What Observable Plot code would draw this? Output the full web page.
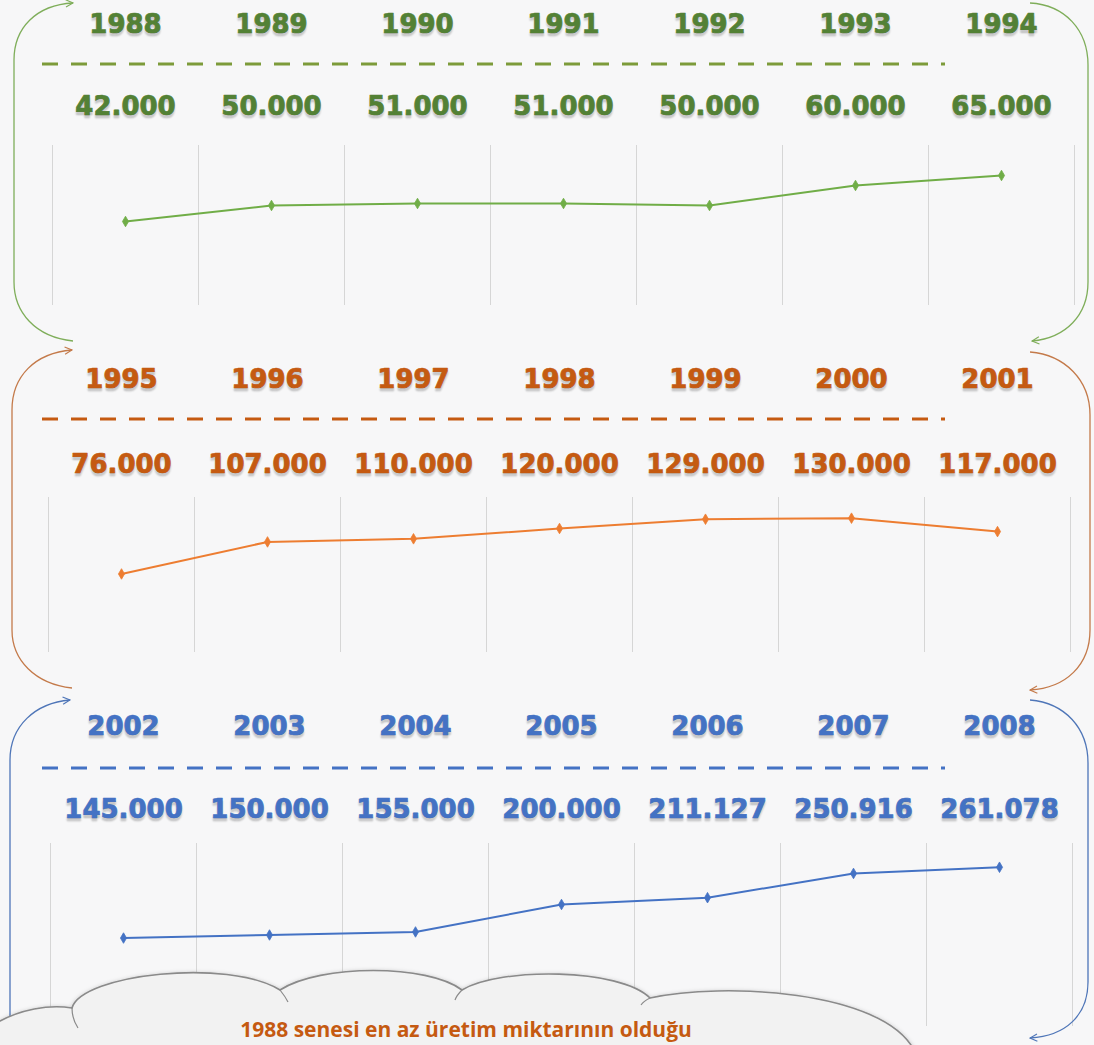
<!DOCTYPE html>
<html>
<head>
<meta charset="utf-8">
<script src="https://cdn.jsdelivr.net/npm/d3@7"></script>
<script src="https://cdn.jsdelivr.net/npm/@observablehq/plot@0.6"></script>
<style>
  html, body { margin: 0; padding: 0; background: #f7f7f8; }
  #root { position: relative; width: 1094px; height: 1045px; overflow: hidden; background: #f7f7f8; }
  #root svg.panel { position: absolute; left: 0; }
  #root .lbl text { text-shadow: 0 3px 2px rgba(0,0,0,0.18); }
  #overlay { position: absolute; left: 0; top: 0; pointer-events: none; }
</style>
</head>
<body>
<div id="root"></div>
<script>
// ---- data ----
const years1 = [1988, 1989, 1990, 1991, 1992, 1993, 1994];
const values1 = [42000, 50000, 51000, 51000, 50000, 60000, 65000];
const years2 = [1995, 1996, 1997, 1998, 1999, 2000, 2001];
const values2 = [76000, 107000, 110000, 120000, 129000, 130000, 117000];
const years3 = [2002, 2003, 2004, 2005, 2006, 2007, 2008];
const values3 = [145000, 150000, 155000, 200000, 211127, 250916, 261078];
const yMaxes = [80000, 150000, 300000];
const noteText = "1988 senesi en az üretim miktarının olduğu";

const trFormat = d3.formatLocale({decimal: ",", thousands: ".", grouping: [3], currency: ["", " TL"]}).format(",");

const root = document.getElementById("root");

function panel({years, values, yMax, textColor, lineColor, top, height, marginTop, marginBottom, marginLeft, marginRight, dyYear, dyValue}) {
  const data = years.map((year, i) => ({year, value: values[i]}));
  const bounds = years.map(y => y - 0.5).concat([years[years.length - 1] + 0.5]);
  const fontOpts = {fontFamily: "DejaVu Sans", fontWeight: "bold", fontSize: 26, fill: textColor,
    stroke: textColor, strokeWidth: 0.7, lineAnchor: "middle", className: "lbl"};
  const svg = Plot.plot({
    width: 1094,
    height,
    marginTop, marginBottom, marginLeft, marginRight,
    style: {background: "transparent", overflow: "visible"},
    x: {domain: [bounds[0], bounds[bounds.length - 1]], axis: null},
    y: {domain: [0, yMax], axis: null},
    marks: [
      Plot.ruleX(bounds, {y1: 0, y2: yMax, stroke: "#d6d6d6", strokeWidth: 1}),
      Plot.line(data, {x: "year", y: "value", stroke: lineColor, strokeWidth: 2}),
      Plot.dot(data, {x: "year", y: "value", symbol: "diamond", r: 3.2, fill: lineColor, stroke: lineColor, strokeWidth: 0.8}),
      Plot.text(data, {x: "year", text: d => String(d.year), frameAnchor: "top", dy: dyYear, ...fontOpts}),
      Plot.text(data, {x: "year", text: d => trFormat(d.value), frameAnchor: "top", dy: dyValue, ...fontOpts})
    ]
  });
  svg.classList.add("panel");
  svg.style.top = top + "px";
  root.appendChild(svg);
}

panel({years: years1, values: values1, yMax: yMaxes[0], textColor: "#538135", lineColor: "#70ad47",
  top: 0, height: 345, marginTop: 145, marginBottom: 40, marginLeft: 52, marginRight: 20, dyYear: -121, dyValue: -39});
panel({years: years2, values: values2, yMax: yMaxes[1], textColor: "#c55a11", lineColor: "#ed7d31",
  top: 350, height: 342, marginTop: 147, marginBottom: 40, marginLeft: 48, marginRight: 24, dyYear: -118, dyValue: -33});
panel({years: years3, values: values3, yMax: yMaxes[2], textColor: "#4472c4", lineColor: "#4472c4",
  top: 697, height: 348, marginTop: 146, marginBottom: 19, marginLeft: 50, marginRight: 22, dyYear: -117, dyValue: -34});

// ---- decorations (separators, connector arrows, cloud note) ----
const ns = "http://www.w3.org/2000/svg";
const ov = document.createElementNS(ns, "svg");
ov.setAttribute("id", "overlay");
ov.setAttribute("width", 1094);
ov.setAttribute("height", 1045);
ov.innerHTML = `
<defs>
  <marker id="mg" viewBox="0 0 10 10" refX="9" refY="5" markerWidth="9" markerHeight="9" markerUnits="userSpaceOnUse" orient="auto"><path d="M1 1 L9 5 L1 9" fill="none" stroke="#7fae5a" stroke-width="1.3"/></marker>
  <marker id="mo" viewBox="0 0 10 10" refX="9" refY="5" markerWidth="9" markerHeight="9" markerUnits="userSpaceOnUse" orient="auto"><path d="M1 1 L9 5 L1 9" fill="none" stroke="#c47a4a" stroke-width="1.3"/></marker>
  <marker id="mb" viewBox="0 0 10 10" refX="9" refY="5" markerWidth="9" markerHeight="9" markerUnits="userSpaceOnUse" orient="auto"><path d="M1 1 L9 5 L1 9" fill="none" stroke="#4f76b8" stroke-width="1.3"/></marker>
  <filter id="sh" x="-5%" y="-20%" width="110%" height="140%"><feDropShadow dx="0" dy="1" stdDeviation="2" flood-color="#000" flood-opacity="0.25"/></filter>
</defs>
<line x1="42" y1="64" x2="945" y2="64" stroke="#7d9b3a" stroke-width="3" stroke-dasharray="16 13"/>
<line x1="42" y1="419" x2="945" y2="419" stroke="#c55a11" stroke-width="3" stroke-dasharray="16 13"/>
<line x1="42" y1="768" x2="945" y2="768" stroke="#4472c4" stroke-width="3" stroke-dasharray="16 13"/>
<g fill="none" stroke-width="1.3">
  <path d="M73 341 C35 337 14 312 14 282 L14 60 C14 28 36 5 73 3" stroke="#7fae5a" marker-end="url(#mg)"/>
  <path d="M1030 3 C1065 5 1088 30 1088 65 L1088 282 C1088 315 1066 338 1032 341" stroke="#7fae5a" marker-end="url(#mg)"/>
  <path d="M72 688 C35 684 12 660 12 630 L12 410 C12 376 35 353 72 350" stroke="#c47a4a" marker-end="url(#mo)"/>
  <path d="M1030 352 C1065 355 1090 380 1090 415 L1090 630 C1090 665 1066 688 1030 690" stroke="#c47a4a" marker-end="url(#mo)"/>
  <path d="M10 1045 L10 760 C10 726 35 703 70 700" stroke="#4f76b8" marker-end="url(#mb)"/>
  <path d="M1030 700 C1065 703 1088 728 1088 763 L1088 982 C1088 1015 1066 1036 1030 1038" stroke="#4f76b8" marker-end="url(#mb)"/>
</g>
<path d="M-2 1050 L-2 1022 C20 1010 48 1004 72 1008 C82 974 228 958 280 990 C320 964 428 964 462 990 C500 967 620 968 650 998 C722 982 882 990 914 1050 Z"
  fill="#f2f2f2" stroke="#8a8a8a" stroke-width="1.6" filter="url(#sh)"/>
<g fill="none" stroke="#8a8a8a" stroke-width="1.2">
  <path d="M72 1008 C72 1016 74 1022 78 1028"/>
  <path d="M280 990 C284 995 286 998 288 1002"/>
  <path d="M462 990 C458 994 456 997 455 1000"/>
  <path d="M650 998 C646 1000 643 1002 641 1005"/>
</g>
<text x="466" y="1037" text-anchor="middle" font-family="Open Sans" font-weight="700" font-size="21" fill="#c55a11">${noteText}</text>
`;
root.appendChild(ov);
</script>
</body>
</html>
